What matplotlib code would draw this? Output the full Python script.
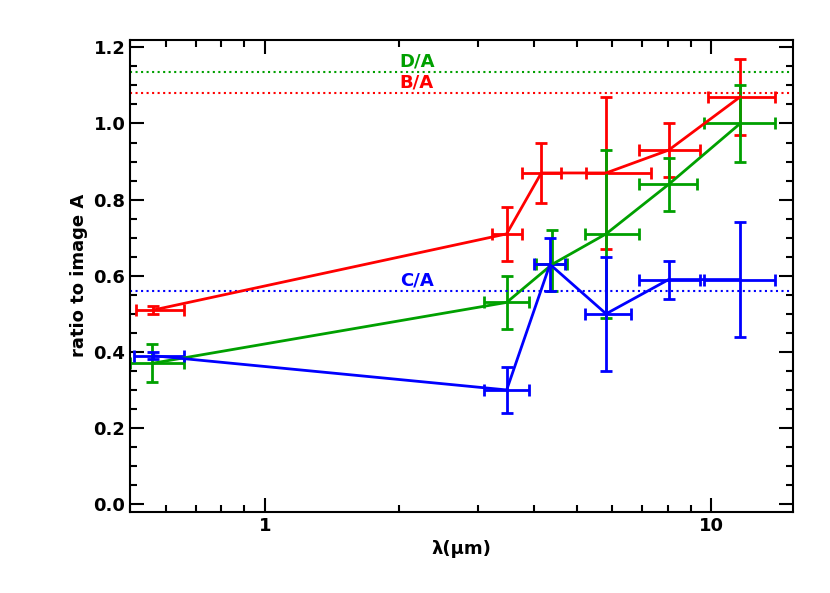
import matplotlib
matplotlib.use("Agg")
import matplotlib.pyplot as plt
from matplotlib.ticker import MultipleLocator, NullFormatter

# B/A (red)
red_x = [0.563, 3.48, 4.16, 5.81, 8.02, 11.6]
red_xlo = [0.516, 3.22, 3.76, 5.24, 6.88, 9.8]
red_xhi = [0.66, 3.76, 4.61, 7.32, 9.45, 13.9]
red_y = [0.51, 0.71, 0.87, 0.87, 0.93, 1.07]
red_ylo = [0.50, 0.64, 0.79, 0.67, 0.86, 0.97]
red_yhi = [0.52, 0.78, 0.95, 1.07, 1.00, 1.17]

# D/A (green)
grn_x = [0.56, 3.48, 4.4, 5.81, 8.02, 11.6]
grn_xlo = [0.50, 3.1, 4.05, 5.2, 6.9, 9.6]
grn_xhi = [0.66, 3.9, 4.75, 6.9, 9.3, 13.9]
grn_y = [0.37, 0.53, 0.63, 0.71, 0.84, 1.00]
grn_ylo = [0.32, 0.46, 0.56, 0.49, 0.77, 0.90]
grn_yhi = [0.42, 0.60, 0.72, 0.93, 0.91, 1.10]

# C/A (blue)
blu_x = [0.563, 3.48, 4.35, 5.81, 8.02, 11.6]
blu_xlo = [0.51, 3.1, 4.0, 5.2, 6.9, 9.6]
blu_xhi = [0.66, 3.9, 4.7, 6.6, 9.45, 13.9]
blu_y = [0.39, 0.30, 0.63, 0.50, 0.59, 0.59]
blu_ylo = [0.38, 0.24, 0.56, 0.35, 0.54, 0.44]
blu_yhi = [0.40, 0.36, 0.70, 0.65, 0.64, 0.74]

ratios = {"D/A": 1.135, "B/A": 1.08, "C/A": 0.56}
label_x = 2.19

fig = plt.figure(figsize=(8.3, 5.93), dpi=100)
ax = fig.add_axes([0.157, 0.137, 0.798, 0.796])

def draw(x, xlo, xhi, y, ylo, yhi, color):
    xerr = [[a - b for a, b in zip(x, xlo)], [b - a for a, b in zip(x, xhi)]]
    yerr = [[a - b for a, b in zip(y, ylo)], [b - a for a, b in zip(y, yhi)]]
    ax.errorbar(x, y, xerr=xerr, yerr=yerr, color=color, lw=2, elinewidth=2,
                capsize=4, capthick=2)

draw(red_x, red_xlo, red_xhi, red_y, red_ylo, red_yhi, "#ff0000")
draw(grn_x, grn_xlo, grn_xhi, grn_y, grn_ylo, grn_yhi, "#00a000")
draw(blu_x, blu_xlo, blu_xhi, blu_y, blu_ylo, blu_yhi, "#0000ff")

cols = {"D/A": "#00a000", "B/A": "#ff0000", "C/A": "#0000ff"}
for name, val in ratios.items():
    ax.axhline(val, color=cols[name], ls=":", lw=1.5)
    ax.text(label_x, val + 0.003, name, color=cols[name], fontsize=13,
            ha="center", va="bottom", fontweight="bold")

ax.set_xscale("log")
ax.set_xlim(0.5, 15.2)
ax.set_ylim(-0.02, 1.22)
ax.yaxis.set_major_locator(MultipleLocator(0.2))
ax.yaxis.set_minor_locator(MultipleLocator(0.05))
ax.yaxis.set_major_formatter(plt.FuncFormatter(lambda v, p: f"{v:.1f}"))
ax.set_xticks([1, 10])
ax.set_xticklabels(["1", "10"])
ax.xaxis.set_minor_formatter(NullFormatter())
ax.tick_params(which="both", direction="in", top=True, right=True, labelsize=13, width=1.5)
ax.tick_params(which="major", length=10)
ax.tick_params(which="minor", length=5)
for lab in ax.get_xticklabels() + ax.get_yticklabels():
    lab.set_fontweight("bold")
for s in ax.spines.values():
    s.set_linewidth(1.5)
ax.set_xlabel("λ(μm)", fontsize=13, fontweight="bold")
ax.set_ylabel("ratio to image A", fontsize=13, fontweight="bold")

fig.savefig("out.png", dpi=100)
